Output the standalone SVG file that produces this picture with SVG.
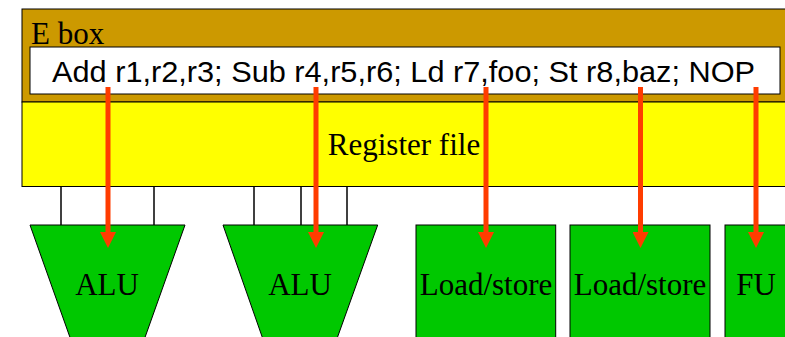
<svg xmlns="http://www.w3.org/2000/svg" width="785" height="337" viewBox="0 0 785 337">
  <style>
    .serif { font-family: "Liberation Serif", "Times New Roman", serif; font-size: 31px; fill: #000; }
    .sans { font-family: "Liberation Sans", Arial, sans-serif; font-size: 30px; fill: #000; }
    .unit { fill: #00C800; stroke: #000; stroke-width: 1; }
    .bus { stroke: #000; stroke-width: 1.5; fill: none; }
    .issue { stroke: #FF3C00; stroke-width: 5; fill: none; marker-end: url(#head); }
  </style>
  <defs>
    <marker id="head" markerUnits="userSpaceOnUse" markerWidth="16" markerHeight="16" viewBox="0 0 16 16" refX="8" refY="8" orient="auto">
      <path d="M0,0 L16,8 L0,16 Z" fill="#FF3C00"/>
    </marker>
  </defs>

  <!-- E box with instruction word -->
  <g id="ebox">
    <rect x="22" y="9" width="800" height="93" fill="#CC9900" stroke="#000" stroke-width="1"/>
    <text class="serif" x="31" y="44">E box</text>
    <rect x="30" y="47" width="750" height="47" fill="#FFFFFF" stroke="#000" stroke-width="1"/>
    <text class="sans" x="52" y="82" textLength="703" lengthAdjust="spacingAndGlyphs">Add r1,r2,r3; Sub r4,r5,r6; Ld r7,foo; St r8,baz; NOP</text>
  </g>

  <!-- Register file -->
  <g id="regfile">
    <rect x="22" y="102" width="800" height="84.5" fill="#FFFF00" stroke="#000" stroke-width="1"/>
    <text class="serif" x="404" y="155" text-anchor="middle">Register file</text>
  </g>

  <!-- Functional units -->
  <g id="alu1">
    <polygon class="unit" points="30,225 185,225 142.3,345 72.7,345"/>
    <text class="serif" x="107" y="295" text-anchor="middle">ALU</text>
  </g>
  <g id="alu2">
    <polygon class="unit" points="223,225 377.7,225 334.7,345 265,345"/>
    <text class="serif" x="300" y="295" text-anchor="middle">ALU</text>
  </g>
  <g id="ls1">
    <rect class="unit" x="416" y="225" width="139.7" height="130"/>
    <text class="serif" x="486" y="295" text-anchor="middle">Load/store</text>
  </g>
  <g id="ls2">
    <rect class="unit" x="570" y="225" width="140" height="130"/>
    <text class="serif" x="640" y="295" text-anchor="middle">Load/store</text>
  </g>
  <g id="fu">
    <rect class="unit" x="725" y="225" width="100" height="130"/>
    <text class="serif" x="756" y="295" text-anchor="middle">FU</text>
  </g>

  <!-- Connectors: register read ports and instruction issue paths -->
  <g id="connectors">
    <line class="bus" x1="61" y1="186.5" x2="61" y2="225"/>
    <line class="bus" x1="154" y1="186.5" x2="154" y2="225"/>
    <line class="bus" x1="254" y1="186.5" x2="254" y2="225"/>
    <line class="bus" x1="301" y1="186.5" x2="301" y2="225"/>
    <line class="bus" x1="347" y1="186.5" x2="347" y2="225"/>

    <line class="issue" x1="108" y1="87" x2="108" y2="240"/>
    <line class="issue" x1="316" y1="87" x2="316" y2="240"/>
    <line class="issue" x1="486" y1="87" x2="486" y2="240"/>
    <line class="issue" x1="640.5" y1="87" x2="640.5" y2="240"/>
    <line class="issue" x1="756" y1="87" x2="756" y2="240"/>
  </g>
</svg>
